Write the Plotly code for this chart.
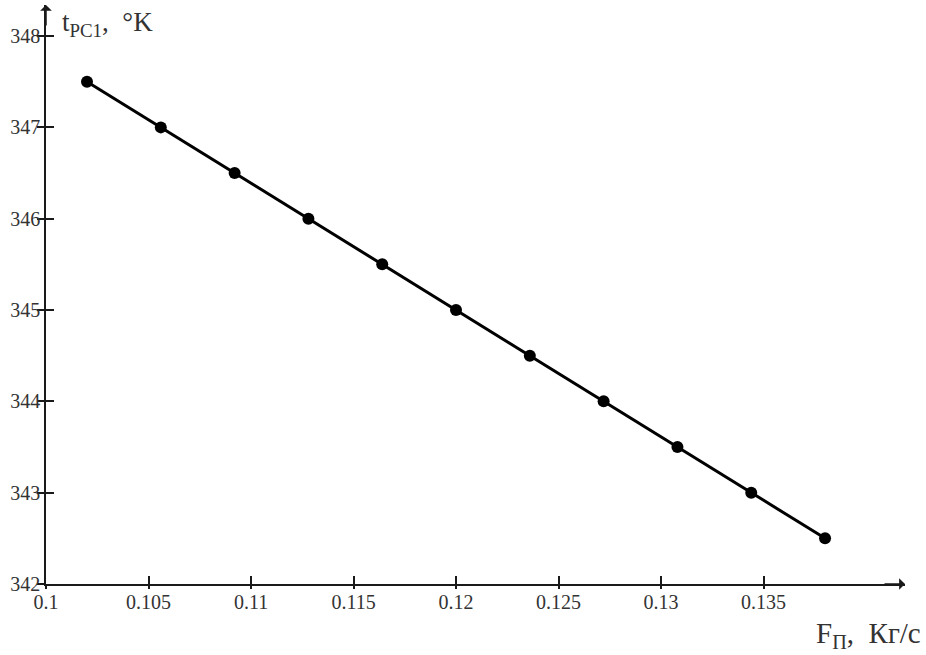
import plotly.graph_objects as go

# Data
flow = [0.102, 0.1056, 0.1092, 0.1128, 0.1164, 0.12, 0.1236, 0.1272, 0.1308, 0.1344, 0.138]
temp = [347.5, 347.0, 346.5, 346.0, 345.5, 345.0, 344.5, 344.0, 343.5, 343.0, 342.5]
x_ticks = [0.1, 0.105, 0.11, 0.115, 0.12, 0.125, 0.13, 0.135]
x_labels = ["0.1", "0.105", "0.11", "0.115", "0.12", "0.125", "0.13", "0.135"]
y_ticks = [342, 343, 344, 345, 346, 347, 348]
y_labels = ["342", "343", "344", "345", "346", "347", "348"]

FONT = "Liberation Serif, Times New Roman, serif"
AX = "#1a1a1a"
TXT = "#333"
xr = [0.1, 0.1419]
yr = [342, 348.34]

fig = go.Figure()
fig.add_trace(go.Scatter(
    x=flow, y=temp, mode="lines+markers",
    line=dict(color="black", width=3),
    marker=dict(color="black", size=12),
    showlegend=False, hoverinfo="skip",
))
# invisible trace for the overlay axes (tick parts on the other side)
fig.add_trace(go.Scatter(
    x=flow, y=temp, xaxis="x2", yaxis="y2", mode="markers",
    marker=dict(opacity=0), showlegend=False, hoverinfo="skip",
))

fig.update_layout(
    width=926, height=655,
    margin=dict(l=46, r=21, t=5, b=71),
    paper_bgcolor="white", plot_bgcolor="white",
    font=dict(family=FONT, color=TXT, size=19),
    xaxis=dict(
        range=xr, tickvals=x_ticks, ticktext=x_labels,
        showgrid=False, zeroline=False,
        showline=True, linecolor=AX, linewidth=1.5,
        ticks="inside", ticklen=8, tickwidth=1.5, tickcolor=AX,
        ticklabelstandoff=-1,
        tickfont=dict(family=FONT, size=20, color=TXT),
    ),
    yaxis=dict(
        range=yr, tickvals=y_ticks, ticktext=y_labels,
        showgrid=False, zeroline=False,
        showline=True, linecolor=AX, linewidth=1.5,
        ticks="outside", ticklen=7, tickwidth=1.5, tickcolor=AX,
        ticklabelstandoff=-7,
        tickfont=dict(family=FONT, size=20, color=TXT),
    ),
    xaxis2=dict(
        range=xr, tickvals=x_ticks, overlaying="x", anchor="y2", side="bottom",
        showgrid=False, zeroline=False, showline=False, showticklabels=False,
        ticks="outside", ticklen=4, tickwidth=1.5, tickcolor=AX,
    ),
    yaxis2=dict(
        range=yr, tickvals=y_ticks, overlaying="y", anchor="x2", side="left",
        showgrid=False, zeroline=False, showline=False, showticklabels=False,
        ticks="inside", ticklen=8, tickwidth=1.5, tickcolor=AX,
    ),
)

# axis arrows
fig.add_annotation(x=1, y=0, xref="paper", yref="paper", ax=-22, ay=0,
                   axref="pixel", ayref="pixel", text="", showarrow=True,
                   arrowhead=1, arrowsize=1.3, arrowwidth=1.5, arrowcolor=AX)
fig.add_annotation(x=0, y=1, xref="paper", yref="paper", ax=0, ay=22,
                   axref="pixel", ayref="pixel", text="", showarrow=True,
                   arrowhead=1, arrowsize=1.3, arrowwidth=1.5, arrowcolor=AX)

# axis titles
fig.add_annotation(x=0, y=1, xref="paper", yref="paper", xshift=14, yshift=0,
                   xanchor="left", yanchor="top", showarrow=False,
                   text="t<sub>PC1</sub>,  °K",
                   font=dict(family=FONT, size=27, color=TXT))
fig.add_annotation(x=1, y=0, xref="paper", yref="paper", xshift=18, yshift=-31,
                   xanchor="right", yanchor="top", showarrow=False,
                   text="F<sub>П</sub>,  Кг/с",
                   font=dict(family=FONT, size=29, color=TXT))

fig.write_html("out.html")
